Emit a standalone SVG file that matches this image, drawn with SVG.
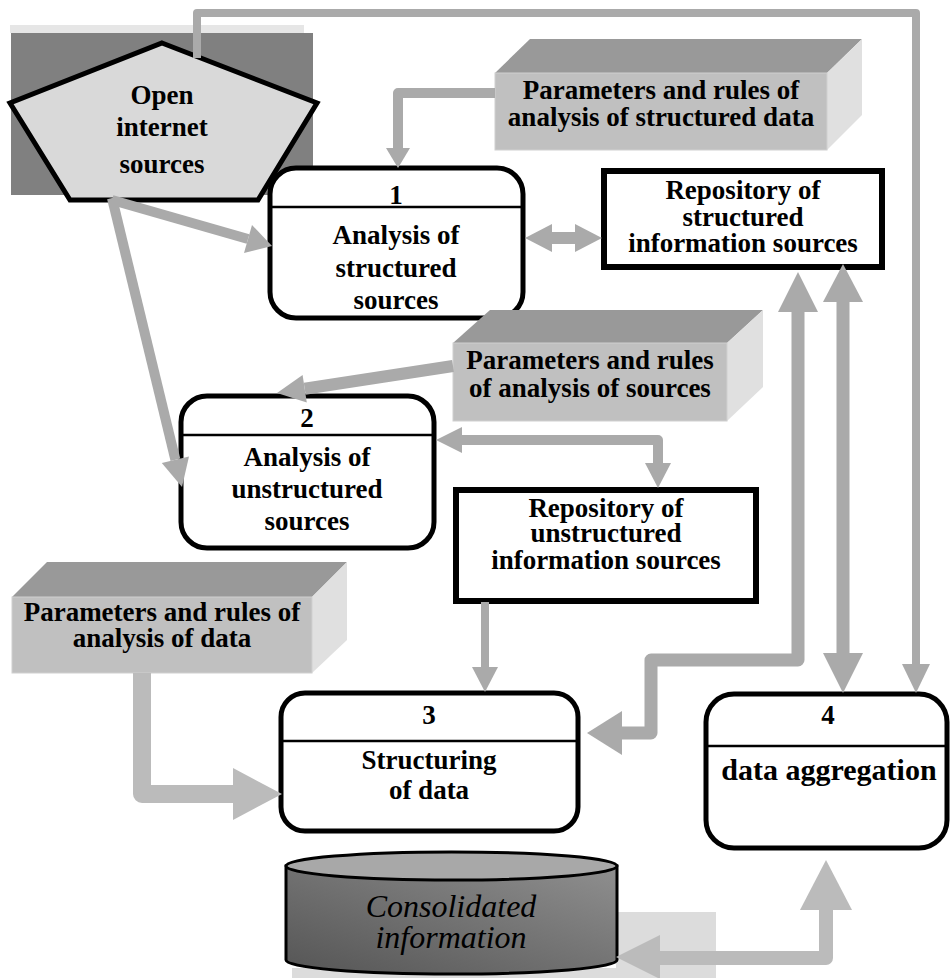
<svg xmlns="http://www.w3.org/2000/svg" width="950" height="978" viewBox="0 0 950 978">
<style>
.t{font-family:"Liberation Serif","Times New Roman",serif;font-weight:bold;font-size:27px;fill:#000;text-anchor:middle}
.proc{fill:#fff;stroke:#000;stroke-width:5}
.div{stroke:#000;stroke-width:2.5}
.repo{fill:#fff;stroke:#000;stroke-width:6}
.front{fill:#c0c0c0;stroke:#d0d0d0;stroke-width:1}
.top{fill:#999999}
.side{fill:#e0e0e0}
.ln{fill:none;stroke:#aaaaaa;stroke-linejoin:round}
.ln2{fill:none;stroke:#bbbbbb;stroke-linejoin:round}
.hd{fill:#aaaaaa}
.hd2{fill:#bbbbbb}
</style>
<defs>
<linearGradient id="cyl" x1="0" y1="1" x2="1" y2="0">
<stop offset="0" stop-color="#555555"/>
<stop offset="1" stop-color="#8f8f8f"/>
</linearGradient>
</defs>
<rect width="950" height="978" fill="#fff"/>

<g id="open-sources">
<rect x="10" y="25" width="294" height="8" fill="#e6e6e6"/>
<rect x="11" y="33" width="302" height="162" fill="#808080"/>
<polygon points="162,43 317,103 258,200 70,200 10,103" fill="#d9d9d9" stroke="#000" stroke-width="5" stroke-linejoin="miter"/>
<text class="t" x="162" y="104">Open</text>
<text class="t" x="162" y="136">internet</text>
<text class="t" x="162" y="173">sources</text>
</g>

<g id="node1">
<rect class="proc" x="270" y="168" width="253" height="150" rx="26"/>
<line class="div" x1="272" y1="207" x2="521" y2="207"/>
<text class="t" x="396" y="204">1</text>
<text class="t" x="396" y="244">Analysis of</text>
<text class="t" x="396" y="277">structured</text>
<text class="t" x="396" y="309">sources</text>
</g>

<g id="params-structured">
<polygon class="top" points="495,73 530,39 862,39 827,73"/>
<polygon class="side" points="827,73 862,39 862,115 827,150"/>
<rect class="front" x="495" y="73" width="332" height="77"/>
<text class="t" x="661" y="99">Parameters and rules of</text>
<text class="t" x="661" y="126">analysis of structured data</text>
</g>

<g id="repo-structured">
<rect class="repo" x="604" y="171" width="278" height="96"/>
<text class="t" x="743" y="199">Repository of</text>
<text class="t" x="743" y="226">structured</text>
<text class="t" x="743" y="252">information sources</text>
</g>

<g id="node2">
<rect class="proc" x="181" y="396" width="253" height="152" rx="26"/>
<line class="div" x1="183" y1="435" x2="432" y2="435"/>
<text class="t" x="307" y="427">2</text>
<text class="t" x="307" y="466">Analysis of</text>
<text class="t" x="307" y="498">unstructured</text>
<text class="t" x="307" y="530">sources</text>
</g>

<g id="params-sources">
<polygon class="top" points="453,343 490,310 763,310 727,343"/>
<polygon class="side" points="727,343 763,310 763,387 727,421"/>
<rect class="front" x="453" y="343" width="274" height="78"/>
<text class="t" x="590" y="369">Parameters and rules</text>
<text class="t" x="590" y="397">of analysis of sources</text>
</g>

<g id="repo-unstructured">
<rect class="repo" x="456" y="490" width="300" height="111"/>
<text class="t" x="606" y="517">Repository of</text>
<text class="t" x="606" y="542">unstructured</text>
<text class="t" x="606" y="569">information sources</text>
</g>

<g id="params-data">
<polygon class="top" points="12,597 47,562 347,562 312,597"/>
<polygon class="side" points="312,597 347,562 347,640 312,673"/>
<rect class="front" x="12" y="597" width="300" height="76"/>
<text class="t" x="162" y="621">Parameters and rules of</text>
<text class="t" x="162" y="647">analysis of data</text>
</g>

<g id="node3">
<rect class="proc" x="281" y="693" width="297" height="138" rx="24"/>
<line class="div" x1="283" y1="741" x2="576" y2="741"/>
<text class="t" x="429" y="724">3</text>
<text class="t" x="429" y="769">Structuring</text>
<text class="t" x="429" y="799">of data</text>
</g>

<g id="node4">
<rect class="proc" x="706" y="694" width="241" height="154" rx="28"/>
<line class="div" x1="708" y1="746" x2="945" y2="746"/>
<text class="t" x="828" y="724">4</text>
<text class="t" x="829" y="780" style="font-size:30px">data aggregation</text>
</g>

<g id="consolidated">
<rect x="616" y="912" width="100" height="66" fill="#dcdcdc"/>
<rect x="292" y="968" width="424" height="10" fill="#dcdcdc"/>
<path d="M286,866 V960 A165.5,14 0 0 0 617,960 V866 Z" fill="url(#cyl)" stroke="#000" stroke-width="3"/>
<ellipse cx="451.5" cy="866" rx="165.5" ry="14" fill="#a8a8a8" stroke="#000" stroke-width="3"/>
<text x="451" y="917" style="font-family:'Liberation Serif','Times New Roman',serif;font-style:italic;font-size:32px;text-anchor:middle;fill:#000">Consolidated</text>
<text x="451" y="948" style="font-family:'Liberation Serif','Times New Roman',serif;font-style:italic;font-size:32px;text-anchor:middle;fill:#000">information</text>
</g>

<g id="connectors">
<!-- top loop from open sources to node 4 -->
<path class="ln" d="M197,58 V13 H916 V665" stroke-width="8"/>
<polygon class="hd" points="902,664 930,664 916,693"/>
<!-- params structured -> node 1 -->
<path class="ln" d="M495,93 H398 V149" stroke-width="10"/>
<polygon class="hd" points="386,148 410,148 398,168"/>
<!-- open sources -> node 1 -->
<path class="ln" d="M112,200 L248,239" stroke-width="10"/>
<polygon class="hd" points="244,253 252,225 272,246"/>
<!-- open sources -> node 2 -->
<path class="ln" d="M112,198 L175.4,459.8" stroke-width="10"/>
<polygon class="hd" points="161.8,463.1 189,456.5 182,487"/>
<!-- params sources -> node 2 -->
<path class="ln" d="M453,366 L304.7,388.7" stroke-width="12"/>
<polygon class="hd" points="302.6,374.9 306.8,402.5 277,393"/>
<!-- node1 <-> repo structured -->
<path class="ln" d="M550,238 H577" stroke-width="12"/>
<polygon class="hd" points="525,238 552,224 552,252"/>
<polygon class="hd" points="602,238 575,224 575,252"/>
<!-- node2 <-> repo unstructured -->
<path class="ln" d="M460,440 H658 V464" stroke-width="10"/>
<polygon class="hd" points="436,440 462,427 462,453"/>
<polygon class="hd" points="645,463 671,463 658,488"/>
<!-- repo unstructured -> node 3 -->
<path class="ln" d="M485,602 V668" stroke-width="8"/>
<polygon class="hd" points="472,667 498,667 485,692"/>
<!-- params data -> node 3 -->
<path class="ln2" d="M142,673 V794 H235" stroke-width="18"/>
<polygon class="hd2" points="233,768 233,820 282,794"/>
<!-- node 3 <-> repo structured -->
<path class="ln" d="M798,310 V660 H651 V733 H620" stroke-width="13"/>
<polygon class="hd" points="798,272 778,312 818,312"/>
<polygon class="hd" points="587,733 622,711 622,755"/>
<!-- repo structured <-> node 4 -->
<path class="ln" d="M843,300 V655" stroke-width="13"/>
<polygon class="hd" points="843,264 823,302 863,302"/>
<polygon class="hd" points="843,693 823,653 863,653"/>
<!-- node 4 <-> consolidated -->
<path class="ln2" d="M826,908 V958 H658" stroke-width="14"/>
<polygon class="hd2" points="826,860 800,910 852,910"/>
<polygon class="hd2" points="616,957 660,935 660,979"/>
</g>
</svg>
